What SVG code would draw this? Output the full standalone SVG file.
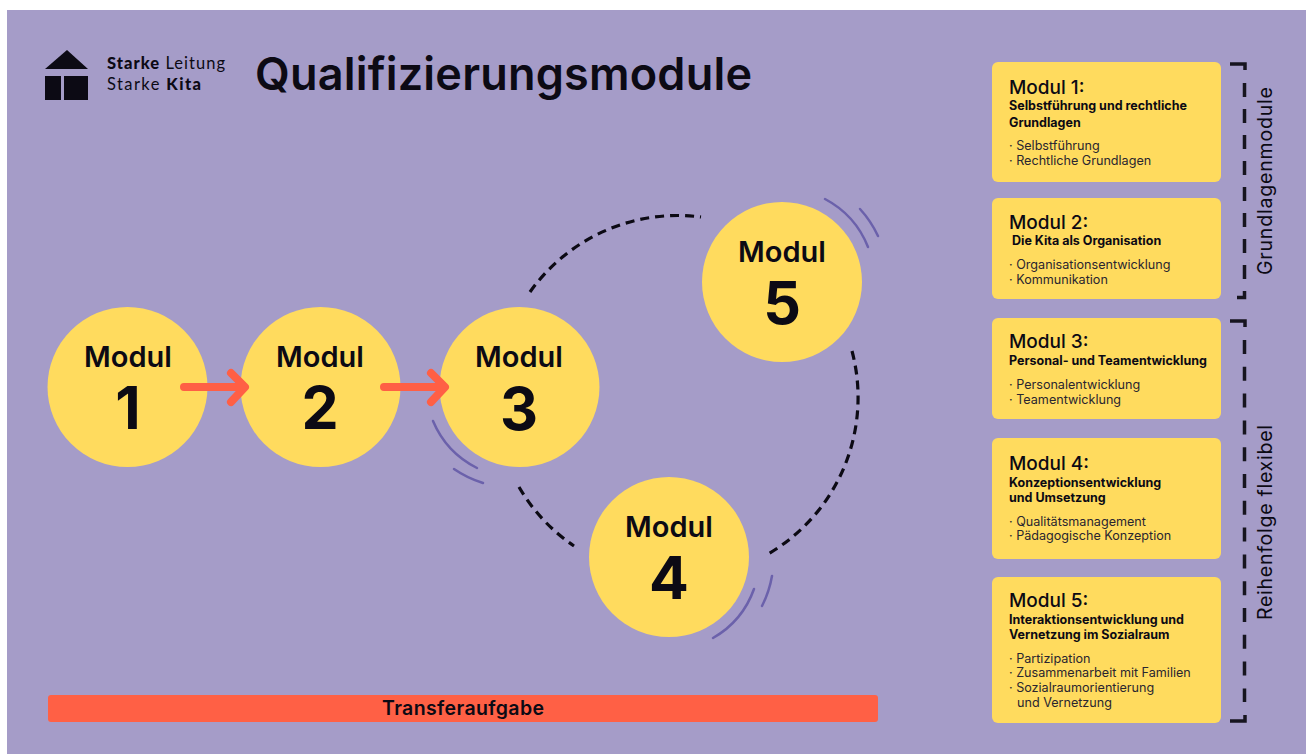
<svg xmlns="http://www.w3.org/2000/svg" width="1306" height="754" viewBox="0 0 1306 754">
<style>
text{font-family:"Inter","Liberation Sans",sans-serif;fill:#0c0a14}
.mod{font-size:29px;font-weight:600;text-anchor:middle}
.num{font-size:59px;font-weight:700;text-anchor:middle}
.c{fill:#ffdb5e}
.card{fill:#ffdb5e}
.h{font-size:19px;font-weight:500}
.s{font-size:12.500px;font-weight:700}
.b{font-size:12.600px;font-weight:400;fill:#2a2630}
.v{font-size:19.500px;font-weight:400}
.dash{fill:none;stroke:#0c0a14;stroke-width:3.200;stroke-dasharray:9 6}
.arc{fill:none;stroke:#6b61ab;stroke-width:2.500;stroke-linecap:round}
.arrow{fill:none;stroke:#ff5f45;stroke-width:8;stroke-linecap:round;stroke-linejoin:round}
.br{fill:none;stroke:#17151f;stroke-width:3.500}
.logo{font-family:"Lato","Liberation Sans",sans-serif;font-size:16.500px}
</style>
<rect width="1306" height="754" fill="#ffffff"/>
<rect x="7" y="10" width="1299" height="744" fill="#a59cc8"/>

<g id="logo">
<path d="M45 69L67 50L88 69Z" fill="#0c0a14"/>
<rect x="45" y="76" width="16" height="24" fill="#0c0a14"/>
<rect x="64" y="76" width="24" height="24" fill="#0c0a14"/>
<text class="logo" x="107" y="69" textLength="118"><tspan font-weight="900">Starke</tspan> Leitung</text>
<text class="logo" x="107" y="90" textLength="94">Starke <tspan font-weight="900">Kita</tspan></text>
</g>
<text id="title" x="255" y="90" font-size="45" font-weight="600" textLength="497">Qualifizierungsmodule</text>

<g id="connectors">
<path class="dash" d="M530 292A181 181 0 0 1 701 217"/>
<path class="dash" d="M852 351A181 181 0 0 1 768 554"/>
<path class="dash" d="M519 487A181 181 0 0 0 574 546"/>
</g>

<g id="orbit-marks">
<path class="arc" d="M433 421A93 93 0 0 0 477 468"/>
<path class="arc" d="M454 469A106 106 0 0 0 483 483"/>
<path class="arc" d="M754 589A92 92 0 0 1 713 638"/>
<path class="arc" d="M772 576A106 106 0 0 1 762 606"/>
<path class="arc" d="M825 199A93 93 0 0 1 868 247"/>
<path class="arc" d="M860 209A106 106 0 0 1 878 236"/>
</g>

<g id="node-1"><circle class="c" cx="127.500" cy="387" r="80"/><text class="mod" x="128" y="367">Modul</text><text class="num" x="128" y="429">1</text></g>
<g id="node-2"><circle class="c" cx="320.500" cy="387" r="80"/><text class="mod" x="320" y="367">Modul</text><text class="num" x="320" y="429">2</text></g>
<g id="node-3"><circle class="c" cx="519.500" cy="387" r="80"/><text class="mod" x="519" y="367">Modul</text><text class="num" x="519" y="430">3</text></g>
<g id="node-4"><circle class="c" cx="669" cy="557" r="80"/><text class="mod" x="669" y="537">Modul</text><text class="num" x="669" y="599">4</text></g>
<g id="node-5"><circle class="c" cx="782" cy="282" r="80"/><text class="mod" x="782" y="262">Modul</text><text class="num" x="782" y="324">5</text></g>

<g id="arrows">
<path class="arrow" d="M184 387H244M231 373L245 387L231 402"/>
<path class="arrow" d="M384 387H444M431 373L445 387L431 402"/>
</g>

<g id="transfer">
<rect x="48" y="695" width="830" height="27" rx="3" fill="#ff6045"/>
<text x="382" y="715" font-size="19.500" font-weight="600" textLength="162">Transferaufgabe</text>
</g>

<g id="card-1"><rect class="card" x="992" y="62" width="229" height="120" rx="6"/>
<text class="h" x="1009" y="94">Modul 1:</text>
<text class="s" x="1009" y="110">Selbstführung und rechtliche</text>
<text class="s" x="1009" y="127">Grundlagen</text>
<text class="b" x="1009" y="150">· Selbstführung</text>
<text class="b" x="1009" y="165">· Rechtliche Grundlagen</text></g>

<g id="card-2"><rect class="card" x="992" y="198" width="229" height="101" rx="6"/>
<text class="h" x="1009" y="229">Modul 2:</text>
<text class="s" x="1012" y="245">Die Kita als Organisation</text>
<text class="b" x="1009" y="269">· Organisationsentwicklung</text>
<text class="b" x="1009" y="284">· Kommunikation</text></g>

<g id="card-3"><rect class="card" x="992" y="318" width="229" height="101" rx="6"/>
<text class="h" x="1009" y="348">Modul 3:</text>
<text class="s" x="1009" y="365">Personal- und Teamentwicklung</text>
<text class="b" x="1009" y="389">· Personalentwicklung</text>
<text class="b" x="1009" y="404">· Teamentwicklung</text></g>

<g id="card-4"><rect class="card" x="992" y="438" width="229" height="121" rx="6"/>
<text class="h" x="1009" y="470">Modul 4:</text>
<text class="s" x="1009" y="487">Konzeptionsentwicklung</text>
<text class="s" x="1009" y="502">und Umsetzung</text>
<text class="b" x="1009" y="526">· Qualitätsmanagement</text>
<text class="b" x="1009" y="540">· Pädagogische Konzeption</text></g>

<g id="card-5"><rect class="card" x="992" y="577" width="229" height="146" rx="6"/>
<text class="h" x="1009" y="607">Modul 5:</text>
<text class="s" x="1009" y="624">Interaktionsentwicklung und</text>
<text class="s" x="1009" y="639">Vernetzung im Sozialraum</text>
<text class="b" x="1009" y="663">· Partizipation</text>
<text class="b" x="1009" y="677">· Zusammenarbeit mit Familien</text>
<text class="b" x="1009" y="692">· Sozialraumorientierung</text>
<text class="b" x="1017" y="707">und Vernetzung</text></g>

<g id="bracket-1">
<path class="br" d="M1230 64H1245V70"/>
<path class="br" d="M1244.500 83V297.500H1230" stroke-dasharray="14 12"/>
<text class="v" transform="translate(1272 275) rotate(-90)" textLength="188">Grundlagenmodule</text>
</g>
<g id="bracket-2">
<path class="br" d="M1230 321H1245V327"/>
<path class="br" d="M1244.500 340V702" stroke-dasharray="14 12.800"/>
<path class="br" d="M1245 715V721H1230"/>
<text class="v" transform="translate(1272 620) rotate(-90)" textLength="195">Reihenfolge flexibel</text>
</g>
</svg>
